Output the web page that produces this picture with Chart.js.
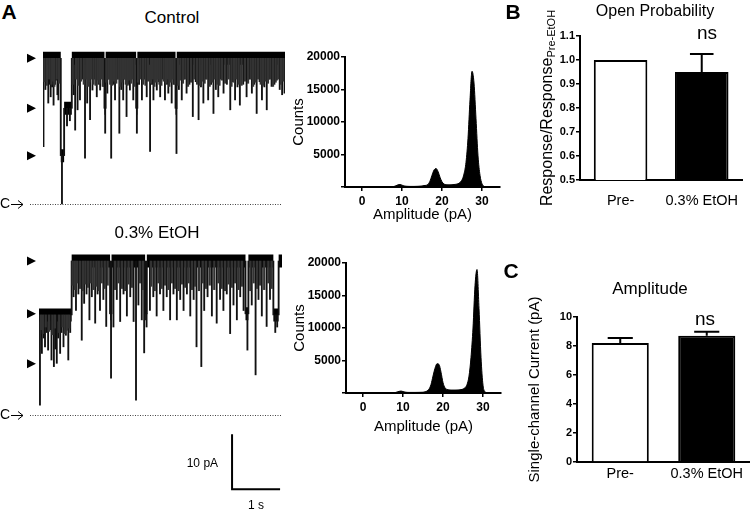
<!DOCTYPE html>
<html>
<head>
<meta charset="utf-8">
<title>Single-channel recordings, control vs 0.3% EtOH</title>
<script src="https://cdn.jsdelivr.net/npm/chart.js@4.4.1/dist/chart.umd.min.js"></script>
<style>
  html, body { margin: 0; padding: 0; background: #fff; }
  #fig { position: relative; width: 750px; height: 510px; overflow: hidden;
         font-family: "Liberation Sans", Arial, sans-serif; color: #000; }
  #fig canvas { position: absolute; }
  .t { position: absolute; white-space: nowrap; transform: translate(-50%, -50%); line-height: 1; }
  .rot { transform: translate(-50%, -50%) rotate(-90deg); }
  .panel { font-weight: bold; font-size: 21px; }
  sub { font-size: 11px; vertical-align: -3px; }
</style>
</head>
<body>
<div id="fig">
  <canvas id="traceCtrl" width="290" height="190" style="left:0;top:30px"></canvas>
  <canvas id="traceEtoh" width="290" height="274" style="left:0;top:236px"></canvas>
  <canvas id="histCtrl" width="215" height="185" style="left:290px;top:45px"></canvas>
  <canvas id="histEtoh" width="215" height="185" style="left:291px;top:251px"></canvas>
  <canvas id="barB" width="230" height="215" style="left:520px;top:0"></canvas>
  <canvas id="barC" width="230" height="252" style="left:520px;top:250px"></canvas>

  <div class="t panel" style="left:9px;top:11px">A</div>
  <div class="t panel" style="left:513px;top:11px">B</div>
  <div class="t panel" style="left:511px;top:270px">C</div>
  <div class="t" style="left:172px;top:17px;font-size:17px">Control</div>
  <div class="t" style="left:157px;top:232px;font-size:17px">0.3% EtOH</div>
  <div class="t" style="left:655px;top:11px;font-size:16px">Open Probability</div>
  <div class="t" style="left:707px;top:32px;font-size:19px">ns</div>
  <div class="t rot" style="left:548px;top:108px;font-size:16px">Response/Response<sub>Pre-EtOH</sub></div>
  <div class="t" style="left:650px;top:288px;font-size:17px">Amplitude</div>
  <div class="t" style="left:705px;top:318px;font-size:19px">ns</div>
</div>
<script>
// ---------------- data ----------------
// current levels marked by the arrows (pA above the closed level)
const arrowLevels = [28, 18.4, 9.3];

// control trace: plateau segments (s, s, pA)
const ctrlSegStart = [0, 0.37, 0.44, 0.60, 1.28, 1.305, 1.94, 1.965, 2.76, 2.785];
const ctrlSegEnd   = [0.37, 0.44, 0.60, 1.28, 1.305, 1.94, 1.965, 2.76, 2.785, 5.04];
const ctrlSegLevel = [28, 9.3, 18.4, 28, 18.4, 28, 18.4, 28, 18.4, 28];
// control trace: longer closings (time s, lowest current pA)
const ctrlSpikeT = [0.01,0.05,0.11,0.14,0.16,0.19,0.22,0.25,0.27,0.30,0.32,0.35,0.395,0.50,0.56,
  0.64,0.67,0.72,0.75,0.77,0.82,0.875,0.92,0.95,0.98,1.03,1.07,1.12,1.16,1.19,1.23,1.26,1.295,1.34,1.38,
  1.42,1.46,1.50,1.55,1.59,1.63,1.67,1.71,1.74,1.78,1.81,1.85,1.88,1.955,2.00,2.06,2.11,2.16,2.23,2.27,
  2.30,2.34,2.37,2.41,2.44,2.49,2.54,2.58,2.61,2.65,2.68,2.72,2.78,2.83,2.89,2.94,2.99,3.05,3.12,3.18,
  3.24,3.29,3.34,3.39,3.44,3.50,3.55,3.60,3.65,3.70,3.76,3.83,3.90,3.95,4.00,4.05,4.10,4.17,4.24,4.30,
  4.35,4.40,4.45,4.51,4.56,4.61,4.66,4.71,4.76,4.82,4.87,4.93,4.98,5.03];
const ctrlSpikeMin = [11.0,22,19.4,23,20.6,22.5,19.0,23,23.8,21,20.0,24,0,15,16,
  21,14.2,18.1,23,20,24,8.8,19.4,23.5,16.2,21.9,24,20.6,23,21.9,24.5,22.6,13.6,21.3,24,
  8.8,23,20,24,13.6,22,20,24,16.8,23,21.9,24.5,20,13.6,23,20,24,20.6,10.1,23,
  20,24,21.9,23.5,20.6,24,20,23,21.3,24,19.4,23,9.7,22,20,24,21.3,23,16.8,23.5,
  16.2,22.5,19.4,24,20,23,17.4,22,20.6,24,21.3,23,18.1,23.5,20,22.5,19.0,23,20.6,24,
  21.3,23,17.4,23.5,20,22.5,18.1,24,22.6,23,23.8,22,21,21.3];
// control trace: brief flickers just below the open level
const ctrlFlickT = [0.03,0.08,0.13,0.175,0.205,0.235,0.285,0.335,0.62,0.69,0.735,0.79,0.85,0.90,0.935,
  0.965,1.00,1.05,1.095,1.14,1.175,1.21,1.245,1.32,1.36,1.40,1.44,1.48,1.525,1.57,1.61,1.65,1.69,1.725,
  1.76,1.795,1.83,1.865,1.91,1.98,2.03,2.085,2.135,2.19,2.25,2.285,2.32,2.355,2.39,2.425,2.465,2.515,
  2.56,2.595,2.63,2.665,2.70,2.74,2.81,2.86,2.915,2.965,3.02,3.085,3.15,3.21,3.265,3.315,3.365,3.415,
  3.47,3.525,3.575,3.625,3.675,3.73,3.795,3.865,3.925,3.975,4.025,4.075,4.135,4.205,4.27,4.325,4.375,
  4.425,4.48,4.535,4.585,4.635,4.685,4.735,4.79,4.845,4.90,4.955,5.005];
const ctrlFlickMin = [23.5,22.8,24,23,23.6,22.6,24,23.2,23,24,22.8,23.6,23,24,22.6,
  23.4,24,23,22.8,23.8,23.2,24,22.6,23.4,24,23,22.8,23.6,23.2,24,22.6,23.4,24,23,
  22.8,23.8,23.2,24,22.6,23.4,24,23,22.8,23.6,23.2,24,22.6,23.4,24,23,22.8,23.6,
  23.2,24,22.6,23.4,24,23,22.8,23.8,23.2,24,22.6,23.4,24,23,22.8,23.6,23.2,24,
  22.6,23.4,24,23,22.8,23.8,23.2,24,22.6,23.4,24,23,22.8,23.6,23.2,24,22.6,
  23.4,24,23,22.8,23.6,23.2,24,22.6,23.4,24,23,23.6];

// 0.3% EtOH trace
const etohSegStart = [0, 0.68, 1.48, 1.51, 2.21, 2.245, 4.30, 4.36, 4.88, 4.99];
const etohSegEnd   = [0.68, 1.48, 1.51, 2.21, 2.245, 4.30, 4.36, 4.88, 4.99, 5.06];
const etohSegLevel = [18.2, 28, 18.4, 28, 18.4, 28, 18.4, 28, 18.2, 28];
const etohSpikeT = [0.02,0.06,0.10,0.125,0.16,0.19,0.23,0.26,0.31,0.34,0.37,0.40,0.44,0.47,0.51,0.56,0.61,0.65,
  0.72,0.77,0.82,0.89,0.94,0.99,1.05,1.10,1.17,1.22,1.27,1.34,1.40,1.50,1.55,1.62,1.69,1.76,1.83,1.90,
  1.97,2.02,2.07,2.14,2.19,2.24,2.31,2.38,2.45,2.52,2.59,2.66,2.73,2.80,2.87,2.94,3.01,3.08,3.15,3.22,
  3.28,3.38,3.44,3.51,3.60,3.70,3.77,3.84,3.91,3.98,4.05,4.12,4.19,4.26,4.34,4.43,4.51,4.57,4.64,4.74,
  4.81,4.92,4.96];
const etohSpikeMin = [1.8,11.2,14,12.4,15,11.8,15.5,10.0,8.8,12,9.4,14,11.2,15,12.4,14.5,10.0,15,
  21.5,19,22,13.6,20.3,22,17.3,21.5,16.7,22,19,21,16.1,6.7,16,21,17,22,18,21.5,
  17,2.7,20,17.3,11.3,16,19,21.5,18,22,19,21.5,17.3,22,17.3,21,19,22,18,21,
  12.4,8.8,19,21.5,18,16.7,21,19,22,14.8,20,17.3,21.5,19,11.8,20,7.3,21,18,16.1,
  21,15,16];
const etohFlickT = [0.04,0.08,0.14,0.21,0.28,0.33,0.42,0.49,0.535,0.585,0.63,
  0.70,0.745,0.795,0.855,0.915,0.965,1.02,1.075,1.135,1.195,1.245,1.305,1.37,1.43,1.585,1.655,1.725,
  1.795,1.865,1.935,2.10,2.165,2.335,2.41,2.485,2.555,2.625,2.695,2.765,2.835,2.905,2.975,3.045,
  3.115,3.185,3.25,3.33,3.41,3.475,3.555,3.65,3.735,3.805,3.875,3.945,4.015,4.085,4.155,4.225,
  4.40,4.47,4.54,4.605,4.69,4.775,4.845];
const etohFlickMin = [15.5,14.8,16,15.2,14.6,15.8,15,16,14.8,15.4,15.8,
  23.6,22.8,24,23,22.6,23.8,23.2,24,22.8,23.4,22.6,24,23,23.6,22.8,24,23,
  22.6,23.8,23.2,24,22.8,23.4,22.6,24,23,23.6,22.8,24,23,22.6,23.8,23.2,
  24,22.8,23.4,22.6,24,23,23.6,22.8,24,23,22.6,23.8,23.2,24,22.8,23.4,
  22.6,24,23,23.6,22.8,24,23];

// amplitude histograms: bins of 0.5 pA starting at 0 pA
const binStart = 0;
const binWidth = 0.5;
const ctrlCounts = [
  0,0,0,0,0,0,0,0,0,0,0,0,0,0,0,20,
  80,200,330,380,280,170,120,100,90,90,90,100,110,130,160,220,
  250,400,900,1800,2600,2850,2400,1500,800,450,350,330,330,350,380,420,
  500,700,1100,2000,3800,7500,13400,17800,16000,10500,4800,1800,500,100,0,0,0];
const etohCounts = [
  0,0,0,0,0,0,0,0,0,0,0,0,0,0,0,0,
  60,150,250,300,220,140,100,90,90,90,90,95,100,110,120,180,
  300,600,1300,2600,3800,4500,4400,3200,1600,800,550,480,450,450,450,460,
  480,520,600,800,1300,2600,5500,10000,16500,19000,13000,5500,1200,200,0,0,0];

// summary bars
const groups = ['Pre-', '0.3% EtOH'];
const openProbMean = [1.0, 0.95];
const openProbSem  = [0, 0.075];
const ampMean = [8.2, 8.7];
const ampSem  = [0.35, 0.28];

// scale bar for the traces
const scaleBarPA = 10;
const scaleBarS = 1;

// ---------------- helpers ----------------
Chart.defaults.font.family = "'Liberation Sans', Arial, sans-serif";
Chart.defaults.color = '#000';
Chart.defaults.animation = false;
Chart.defaults.plugins.legend.display = false;
Chart.defaults.plugins.tooltip.enabled = false;

function levelAt(start, end, level, t) {
  for (let i = 0; i < start.length; i++) {
    if (t >= start[i] && t < end[i]) return level[i];
  }
  return level[level.length - 1];
}

// one thick horizontal stroke per open-level segment, broken between segments
function bandPoints(start, end, level) {
  const pts = [];
  start.forEach((s, i) => {
    pts.push({x: s, y: level[i]}, {x: end[i], y: level[i]}, {x: end[i], y: null});
  });
  return pts;
}

// vertical steps where the number of open channels changes
function stepBars(start, end, level) {
  const bars = [];
  for (let i = 0; i < start.length - 1; i++) {
    bars.push({x: end[i], y: [Math.min(level[i], level[i + 1]), Math.max(level[i], level[i + 1])]});
  }
  return bars;
}

function spikeBars(times, mins, start, end, level) {
  return times.map((t, i) => ({x: t, y: [mins[i], levelAt(start, end, level, t)]}));
}

// arrows, closed-level line, "C ->" marker and optional scale bar
const traceMarks = {
  id: 'traceMarks',
  afterDraw(chart, args, opts) {
    const {ctx, scales: {x, y}} = chart;
    ctx.save();
    const y0 = Math.round(y.getPixelForValue(0)) + 0.5;
    ctx.strokeStyle = '#444';
    ctx.lineWidth = 1;
    ctx.setLineDash([1, 1.5]);
    ctx.beginPath();
    ctx.moveTo(30, y0);
    ctx.lineTo(282, y0);
    ctx.stroke();
    ctx.setLineDash([]);

    ctx.fillStyle = '#000';
    arrowLevels.forEach(v => {
      const py = y.getPixelForValue(v);
      ctx.beginPath();
      ctx.moveTo(27, py - 4.5);
      ctx.lineTo(36, py);
      ctx.lineTo(27, py + 4.5);
      ctx.closePath();
      ctx.fill();
    });

    ctx.font = "14px 'Liberation Sans', Arial";
    ctx.textBaseline = 'middle';
    ctx.fillText('C', 0, y0);
    ctx.strokeStyle = '#000';
    ctx.beginPath();
    ctx.moveTo(11, y0);
    ctx.lineTo(23, y0);
    ctx.moveTo(18, y0 - 4);
    ctx.lineTo(23, y0);
    ctx.lineTo(18, y0 + 4);
    ctx.stroke();

    if (opts.scaleBar) {
      const sb = opts.scaleBar;
      const px = x.getPixelForValue(sb.t);
      const px2 = x.getPixelForValue(sb.t + scaleBarS);
      const py = y.getPixelForValue(sb.v);
      const py2 = y.getPixelForValue(sb.v + scaleBarPA);
      ctx.lineWidth = 2;
      ctx.beginPath();
      ctx.moveTo(px, py2);
      ctx.lineTo(px, py);
      ctx.lineTo(px2, py);
      ctx.stroke();
      ctx.font = "12px 'Liberation Sans', Arial";
      ctx.textAlign = 'right';
      ctx.fillText(scaleBarPA + ' pA', px - 14, (py + py2) / 2 + 2);
      ctx.textAlign = 'center';
      ctx.fillText(scaleBarS + ' s', (px + px2) / 2, py + 16);
    }
    ctx.restore();
  }
};

function traceChart(id, seg, spikes, flicks, xMax, yMin, yMax, padLeft, padRight, scaleBar) {
  const [start, end, level] = seg;
  return new Chart(document.getElementById(id), {
    type: 'bar',
    data: {
      datasets: [
        {
          type: 'bar',
          data: spikeBars(flicks[0], flicks[1], start, end, level),
          backgroundColor: '#333',
          barThickness: 1.6,
          grouped: false
        },
        {
          type: 'bar',
          data: spikeBars(spikes[0], spikes[1], start, end, level).concat(stepBars(start, end, level)),
          backgroundColor: '#111',
          barThickness: 1.2,
          grouped: false
        },
        {
          type: 'line',
          data: bandPoints(start, end, level),
          borderColor: '#000',
          borderWidth: 13,
          borderCapStyle: 'butt',
          spanGaps: false,
          pointRadius: 0,
          tension: 0
        }
      ]
    },
    options: {
      responsive: false,
      layout: { padding: { left: padLeft, right: padRight, top: 0, bottom: 0 } },
      scales: {
        x: { type: 'linear', min: 0, max: xMax, offset: false, display: false },
        y: { min: yMin, max: yMax, display: false }
      },
      plugins: { traceMarks: { scaleBar: scaleBar } }
    },
    plugins: [traceMarks]
  });
}

function histChart(id, counts, xTitlePad) {
  const pts = counts.map((c, i) => ({x: binStart + i * binWidth, y: c}));
  return new Chart(document.getElementById(id), {
    type: 'line',
    data: {
      datasets: [{
        data: pts,
        borderColor: '#000',
        borderWidth: 1,
        backgroundColor: '#000',
        fill: 'origin',
        pointRadius: 0,
        cubicInterpolationMode: 'monotone'
      }]
    },
    options: {
      responsive: false,
      layout: { padding: { left: 0, right: 5, top: 12, bottom: 0 } },
      scales: {
        x: {
          type: 'linear', min: -4.25, max: 34.5,
          ticks: { stepSize: 10, includeBounds: false, padding: 3, font: { size: 12, weight: 'bold' } },
          grid: { drawOnChartArea: false, tickLength: 4, color: '#000', lineWidth: 1.5 },
          border: { color: '#000', width: 2 },
          title: { display: true, text: 'Amplitude (pA)', font: { size: 15 }, padding: { top: 0, bottom: xTitlePad } },
          afterFit: s => { s.height = 43; }
        },
        y: {
          min: 0, max: 20000,
          ticks: { stepSize: 5000, padding: 1, font: { size: 12, weight: 'bold' },
                   callback: v => (v === 0 ? '' : v) },
          grid: { drawOnChartArea: false, tickLength: 4, color: '#000', lineWidth: 1.5 },
          border: { color: '#000', width: 2 },
          title: { display: true, text: 'Counts', font: { size: 15 }, padding: { top: 0, bottom: 0 } },
          afterFit: s => { s.width = 55; }
        }
      }
    }
  });
}

const errorBars = {
  id: 'errorBars',
  afterDatasetsDraw(chart, args, opts) {
    const {ctx, scales: {y}} = chart;
    const meta = chart.getDatasetMeta(0);
    const means = chart.data.datasets[0].data;
    ctx.save();
    ctx.strokeStyle = '#000';
    ctx.lineWidth = 2;
    meta.data.forEach((bar, i) => {
      const sem = opts.sem[i];
      if (!sem) return;
      const yTop = y.getPixelForValue(means[i] + sem);
      const yMid = y.getPixelForValue(means[i]);
      const half = bar.width * 0.22;
      ctx.beginPath();
      ctx.moveTo(bar.x, yMid);
      ctx.lineTo(bar.x, yTop);
      ctx.moveTo(bar.x - half, yTop);
      ctx.lineTo(bar.x + half, yTop);
      ctx.stroke();
    });
    ctx.restore();
  }
};

function barChart(id, means, sems, yMin, yMax, step, decimals, padTop, yWidth, xHeight, labelPad, yTitle) {
  return new Chart(document.getElementById(id), {
    type: 'bar',
    data: {
      labels: groups,
      datasets: [{
        data: means,
        backgroundColor: ['#fff', '#000'],
        borderColor: '#000',
        borderWidth: 2,
        categoryPercentage: 1,
        barPercentage: 0.66
      }]
    },
    options: {
      responsive: false,
      layout: { padding: { top: padTop, right: 0, left: 0, bottom: 0 } },
      scales: {
        x: {
          grid: { display: false, drawTicks: false },
          border: { color: '#000', width: 2 },
          ticks: { padding: labelPad, font: { size: 14.5 } },
          afterFit: s => { s.height = xHeight; }
        },
        y: {
          min: yMin, max: yMax,
          ticks: { stepSize: step, padding: 1, font: { size: 11, weight: 'bold' },
                   callback: v => v.toFixed(decimals) },
          grid: { drawOnChartArea: false, tickLength: 4, color: '#000', lineWidth: 1.5 },
          border: { color: '#000', width: 2 },
          title: yTitle,
          afterFit: s => { s.width = yWidth; }
        }
      },
      plugins: { errorBars: { sem: sems } }
    },
    plugins: [errorBars]
  });
}

// ---------------- charts ----------------
traceChart('traceCtrl', [ctrlSegStart, ctrlSegEnd, ctrlSegLevel], [ctrlSpikeT, ctrlSpikeMin],
           [ctrlFlickT, ctrlFlickMin], 5.04, -3.07, 33.44, 43, 5, null);
traceChart('traceEtoh', [etohSegStart, etohSegEnd, etohSegLevel], [etohSpikeT, etohSpikeMin],
           [etohFlickT, etohFlickMin], 5.06, -17.27, 32.55, 39, 8, { t: 4.02, v: -13.5 });

histChart('histCtrl', ctrlCounts, 6);
histChart('histEtoh', etohCounts, 0);

barChart('barB', openProbMean, openProbSem, 0.5, 1.1, 0.1, 1, 36, 60, 35, 12, { display: false });
barChart('barC', ampMean, ampSem, 0, 10, 2, 0, 67, 57, 40, 3,
         { display: true, text: 'Single-channel Current (pA)', font: { size: 15 }, padding: { top: 6, bottom: 0 } });
</script>
</body>
</html>
